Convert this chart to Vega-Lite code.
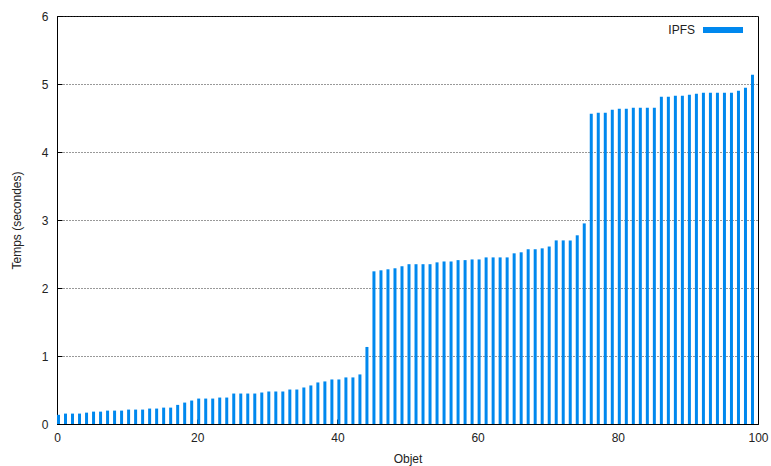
{
  "$schema": "https://vega.github.io/schema/vega-lite/v6.json",
  "autosize": {"type": "none"},
  "padding": {"left": 57, "top": 16, "right": 13, "bottom": 42},
  "width": 701,
  "height": 408,
  "background": "white",
  "config": {
    "font": "Liberation Sans",
    "view": {"stroke": "black", "strokeWidth": 1},
    "axis": {
      "labelFont": "Liberation Sans",
      "titleFont": "Liberation Sans",
      "labelFontSize": 12,
      "titleFontSize": 12,
      "titleFontWeight": "normal",
      "labelColor": "#222",
      "titleColor": "#222",
      "domainColor": "black",
      "tickColor": "black"
    }
  },
  "data": {
    "values": [
      {"objet": 0, "temps": 0.135, "serie": "IPFS"},
      {"objet": 1, "temps": 0.153, "serie": "IPFS"},
      {"objet": 2, "temps": 0.153, "serie": "IPFS"},
      {"objet": 3, "temps": 0.153, "serie": "IPFS"},
      {"objet": 4, "temps": 0.167, "serie": "IPFS"},
      {"objet": 5, "temps": 0.182, "serie": "IPFS"},
      {"objet": 6, "temps": 0.182, "serie": "IPFS"},
      {"objet": 7, "temps": 0.197, "serie": "IPFS"},
      {"objet": 8, "temps": 0.197, "serie": "IPFS"},
      {"objet": 9, "temps": 0.197, "serie": "IPFS"},
      {"objet": 10, "temps": 0.212, "serie": "IPFS"},
      {"objet": 11, "temps": 0.212, "serie": "IPFS"},
      {"objet": 12, "temps": 0.212, "serie": "IPFS"},
      {"objet": 13, "temps": 0.227, "serie": "IPFS"},
      {"objet": 14, "temps": 0.227, "serie": "IPFS"},
      {"objet": 15, "temps": 0.241, "serie": "IPFS"},
      {"objet": 16, "temps": 0.241, "serie": "IPFS"},
      {"objet": 17, "temps": 0.281, "serie": "IPFS"},
      {"objet": 18, "temps": 0.315, "serie": "IPFS"},
      {"objet": 19, "temps": 0.345, "serie": "IPFS"},
      {"objet": 20, "temps": 0.374, "serie": "IPFS"},
      {"objet": 21, "temps": 0.374, "serie": "IPFS"},
      {"objet": 22, "temps": 0.374, "serie": "IPFS"},
      {"objet": 23, "temps": 0.389, "serie": "IPFS"},
      {"objet": 24, "temps": 0.389, "serie": "IPFS"},
      {"objet": 25, "temps": 0.448, "serie": "IPFS"},
      {"objet": 26, "temps": 0.448, "serie": "IPFS"},
      {"objet": 27, "temps": 0.448, "serie": "IPFS"},
      {"objet": 28, "temps": 0.448, "serie": "IPFS"},
      {"objet": 29, "temps": 0.463, "serie": "IPFS"},
      {"objet": 30, "temps": 0.478, "serie": "IPFS"},
      {"objet": 31, "temps": 0.478, "serie": "IPFS"},
      {"objet": 32, "temps": 0.478, "serie": "IPFS"},
      {"objet": 33, "temps": 0.507, "serie": "IPFS"},
      {"objet": 34, "temps": 0.507, "serie": "IPFS"},
      {"objet": 35, "temps": 0.537, "serie": "IPFS"},
      {"objet": 36, "temps": 0.567, "serie": "IPFS"},
      {"objet": 37, "temps": 0.611, "serie": "IPFS"},
      {"objet": 38, "temps": 0.626, "serie": "IPFS"},
      {"objet": 39, "temps": 0.655, "serie": "IPFS"},
      {"objet": 40, "temps": 0.655, "serie": "IPFS"},
      {"objet": 41, "temps": 0.685, "serie": "IPFS"},
      {"objet": 42, "temps": 0.685, "serie": "IPFS"},
      {"objet": 43, "temps": 0.729, "serie": "IPFS"},
      {"objet": 44, "temps": 1.133, "serie": "IPFS"},
      {"objet": 45, "temps": 2.245, "serie": "IPFS"},
      {"objet": 46, "temps": 2.26, "serie": "IPFS"},
      {"objet": 47, "temps": 2.275, "serie": "IPFS"},
      {"objet": 48, "temps": 2.29, "serie": "IPFS"},
      {"objet": 49, "temps": 2.32, "serie": "IPFS"},
      {"objet": 50, "temps": 2.35, "serie": "IPFS"},
      {"objet": 51, "temps": 2.35, "serie": "IPFS"},
      {"objet": 52, "temps": 2.35, "serie": "IPFS"},
      {"objet": 53, "temps": 2.35, "serie": "IPFS"},
      {"objet": 54, "temps": 2.377, "serie": "IPFS"},
      {"objet": 55, "temps": 2.39, "serie": "IPFS"},
      {"objet": 56, "temps": 2.39, "serie": "IPFS"},
      {"objet": 57, "temps": 2.41, "serie": "IPFS"},
      {"objet": 58, "temps": 2.41, "serie": "IPFS"},
      {"objet": 59, "temps": 2.42, "serie": "IPFS"},
      {"objet": 60, "temps": 2.42, "serie": "IPFS"},
      {"objet": 61, "temps": 2.45, "serie": "IPFS"},
      {"objet": 62, "temps": 2.45, "serie": "IPFS"},
      {"objet": 63, "temps": 2.45, "serie": "IPFS"},
      {"objet": 64, "temps": 2.45, "serie": "IPFS"},
      {"objet": 65, "temps": 2.51, "serie": "IPFS"},
      {"objet": 66, "temps": 2.525, "serie": "IPFS"},
      {"objet": 67, "temps": 2.57, "serie": "IPFS"},
      {"objet": 68, "temps": 2.57, "serie": "IPFS"},
      {"objet": 69, "temps": 2.583, "serie": "IPFS"},
      {"objet": 70, "temps": 2.61, "serie": "IPFS"},
      {"objet": 71, "temps": 2.7, "serie": "IPFS"},
      {"objet": 72, "temps": 2.7, "serie": "IPFS"},
      {"objet": 73, "temps": 2.7, "serie": "IPFS"},
      {"objet": 74, "temps": 2.775, "serie": "IPFS"},
      {"objet": 75, "temps": 2.95, "serie": "IPFS"},
      {"objet": 76, "temps": 4.564, "serie": "IPFS"},
      {"objet": 77, "temps": 4.578, "serie": "IPFS"},
      {"objet": 78, "temps": 4.578, "serie": "IPFS"},
      {"objet": 79, "temps": 4.62, "serie": "IPFS"},
      {"objet": 80, "temps": 4.637, "serie": "IPFS"},
      {"objet": 81, "temps": 4.637, "serie": "IPFS"},
      {"objet": 82, "temps": 4.652, "serie": "IPFS"},
      {"objet": 83, "temps": 4.652, "serie": "IPFS"},
      {"objet": 84, "temps": 4.652, "serie": "IPFS"},
      {"objet": 85, "temps": 4.652, "serie": "IPFS"},
      {"objet": 86, "temps": 4.814, "serie": "IPFS"},
      {"objet": 87, "temps": 4.814, "serie": "IPFS"},
      {"objet": 88, "temps": 4.828, "serie": "IPFS"},
      {"objet": 89, "temps": 4.828, "serie": "IPFS"},
      {"objet": 90, "temps": 4.843, "serie": "IPFS"},
      {"objet": 91, "temps": 4.858, "serie": "IPFS"},
      {"objet": 92, "temps": 4.873, "serie": "IPFS"},
      {"objet": 93, "temps": 4.873, "serie": "IPFS"},
      {"objet": 94, "temps": 4.873, "serie": "IPFS"},
      {"objet": 95, "temps": 4.873, "serie": "IPFS"},
      {"objet": 96, "temps": 4.873, "serie": "IPFS"},
      {"objet": 97, "temps": 4.9, "serie": "IPFS"},
      {"objet": 98, "temps": 4.946, "serie": "IPFS"},
      {"objet": 99, "temps": 5.137, "serie": "IPFS"}
    ]
  },
  "mark": {"type": "bar", "size": 3, "xOffset": 1.5, "clip": true},
  "encoding": {
    "x": {
      "field": "objet",
      "type": "quantitative",
      "scale": {"domain": [0, 100], "nice": false, "zero": false, "padding": 0},
      "axis": {
        "title": "Objet",
        "values": [0, 20, 40, 60, 80, 100],
        "grid": false,
        "tickSize": -5,
        "labelPadding": 13,
        "titlePadding": 10,
        "labelFlush": false
      }
    },
    "y": {
      "field": "temps",
      "type": "quantitative",
      "scale": {"domain": [0, 6], "nice": false, "padding": 0},
      "axis": {
        "title": "Temps (secondes)",
        "values": [0, 1, 2, 3, 4, 5, 6],
        "grid": true,
        "gridColor": "#333",
        "gridDash": [1, 2],
        "gridWidth": 1,
        "tickSize": -5,
        "labelPadding": 14,
        "titlePadding": 18,
        "labelFlush": false
      }
    },
    "color": {
      "field": "serie",
      "type": "nominal",
      "scale": {"range": ["#0088ee"]},
      "legend": {
        "title": null,
        "orient": "none",
        "legendX": 646,
        "legendY": -6,
        "padding": 0,
        "symbolType": "M-1,-0.15H1V0.15H-1Z",
        "symbolSize": 1600,
        "symbolStrokeWidth": 0,
        "symbolOpacity": 1,
        "labelFontSize": 12,
        "labelFont": "Liberation Sans",
        "labelColor": "#222",
        "labelAlign": "right",
        "labelOffset": -48
      }
    }
  }
}
